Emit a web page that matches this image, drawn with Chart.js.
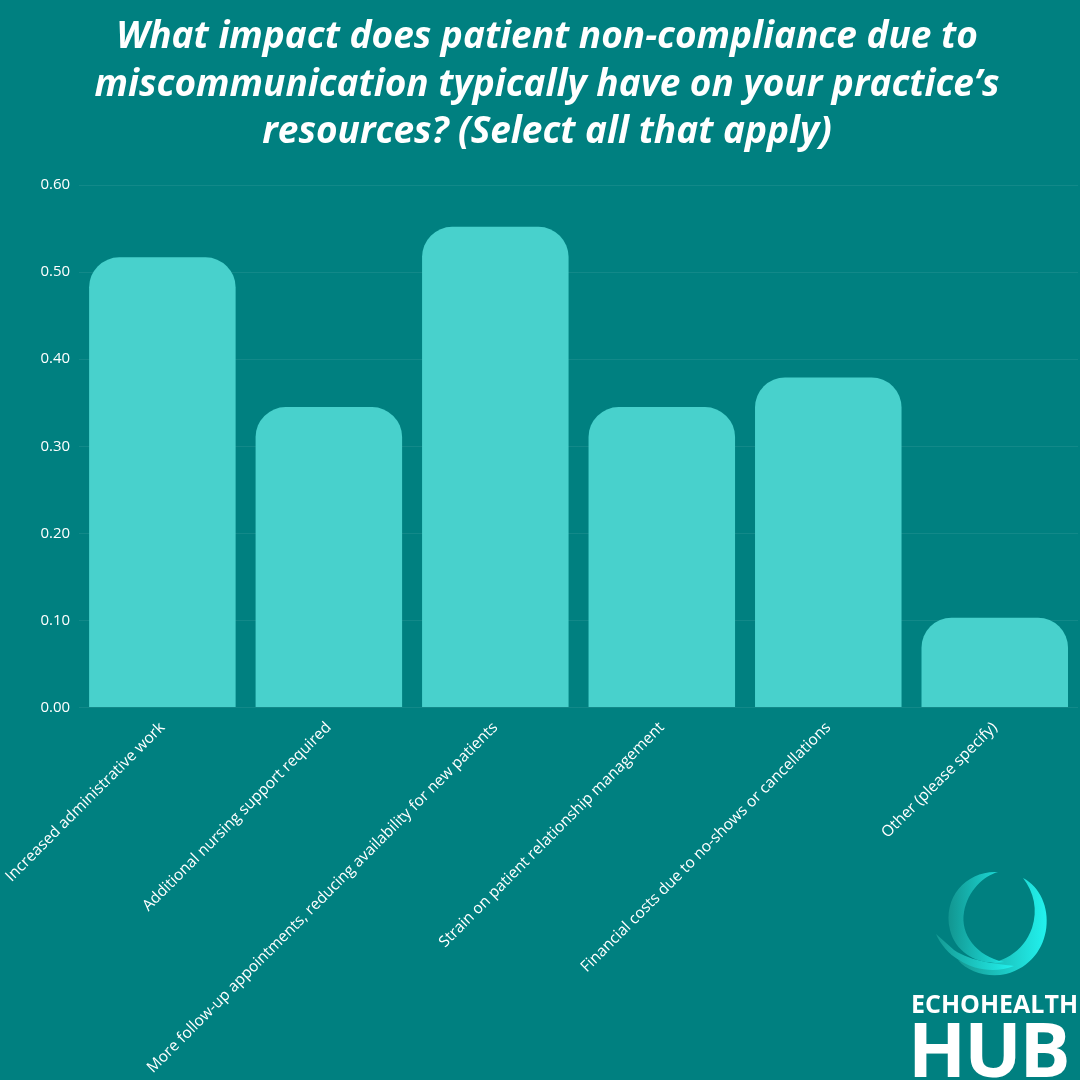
<!DOCTYPE html>
<html>
<head>
<meta charset="utf-8">
<script src="https://cdn.jsdelivr.net/npm/chart.js@4.4.0/dist/chart.umd.min.js"></script>
<style>
  html, body { margin: 0; padding: 0; background: #008080; }
  #wrap { position: relative; width: 1080px; height: 1080px; overflow: hidden; }
  .logo-txt { position: absolute; color: #fff; font-family: "Open Sans", sans-serif; font-weight: 700; white-space: nowrap; }
  #echo { left: 911px; top: 984px; font-size: 25px; line-height: 38px; letter-spacing: 0px; }
  #hub { left: 908px; top: 1000px; font-size: 76px; line-height: 96px; letter-spacing: -2px; }
  #mark { position: absolute; left: 928px; top: 866px; }
</style>
</head>
<body>
<div id="wrap">
  <canvas id="chart" width="1080" height="1080"></canvas>
  <svg id="mark" width="130" height="124" viewBox="0 0 130 124">
    <defs>
      <linearGradient id="g" x1="0" y1="0" x2="1" y2="0">
        <stop offset="0" stop-color="#159a94"/>
        <stop offset="1" stop-color="#22f2ee"/>
      </linearGradient>
    </defs>
    <path d="M95 12 C130 30 128 95 78 108 C60 112 40 106 30 94 C55 104 92 96 104 62 C110 44 106 26 95 12 Z" fill="url(#g)"/>
    <path d="M70 6 C40 4 14 30 22 64 C28 88 52 100 76 96 C48 90 32 68 36 46 C40 24 56 10 70 6 Z" fill="url(#g)" opacity="0.85"/>
    <path d="M8 68 C20 96 56 112 86 100 C70 98 44 96 26 84 Z" fill="url(#g)"/>
  </svg>
  <div id="echo" class="logo-txt">ECHOHEALTH</div>
  <div id="hub" class="logo-txt">HUB</div>
</div>
<script>
const categories = [
  'Increased administrative work',
  'Additional nursing support required',
  'More follow-up appointments, reducing availability for new patients',
  'Strain on patient relationship management',
  'Financial costs due to no-shows or cancellations',
  'Other (please specify)'
];
const shares = [0.517, 0.345, 0.552, 0.345, 0.379, 0.103];
const titleLines = [
  'What impact does patient non-compliance due to',
  'miscommunication typically have on your practice\u2019s',
  'resources? (Select all that apply)'
];

Chart.defaults.font.family = '"Open Sans", sans-serif';
Chart.defaults.color = '#ffffff';

new Chart(document.getElementById('chart').getContext('2d'), {
  type: 'bar',
  data: {
    labels: categories,
    datasets: [{
      data: shares,
      backgroundColor: '#48d1cc',
      borderWidth: 0,
      borderRadius: { topLeft: 30, topRight: 30 },
      borderSkipped: false,
      categoryPercentage: 1,
      barPercentage: 0.88
    }]
  },
  options: {
    responsive: false,
    animation: false,
    layout: { padding: { left: 16, right: 2, top: 0, bottom: 0 } },
    plugins: {
      legend: { display: false },
      tooltip: { enabled: false },
      title: {
        display: true,
        text: titleLines,
        color: '#ffffff',
        font: { family: '"Open Sans"', size: 37, weight: 'bold', style: 'italic', lineHeight: 1.28 },
        padding: { top: 14, bottom: 29 }
      }
    },
    scales: {
      x: {
        grid: { display: false },
        border: { display: false },
        ticks: {
          autoSkip: false,
          maxRotation: 45,
          minRotation: 45,
          font: { size: 15.5 },
          color: '#ffffff'
        }
      },
      y: {
        min: 0,
        max: 0.6,
        grid: { color: 'rgba(255,255,255,0.07)', drawTicks: false },
        border: { display: false },
        ticks: {
          stepSize: 0.1,
          padding: 9,
          font: { size: 15 },
          color: '#ffffff',
          callback: v => v.toFixed(2)
        }
      }
    }
  }
});
</script>
</body>
</html>
